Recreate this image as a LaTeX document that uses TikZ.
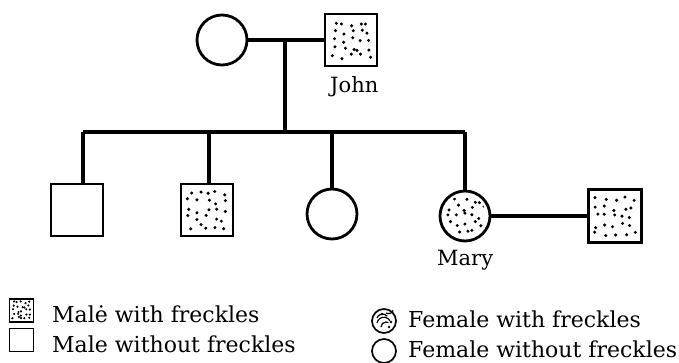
\documentclass[tikz,border=0pt]{standalone}
\usepackage{fontspec}
\setmainfont{DejaVu Serif}
\begin{document}
\begin{tikzpicture}[x=1pt,y=-1pt,
  shapeline/.style={line width=2.8pt},
  male/.style={shapeline,draw,rectangle,minimum width=52pt,minimum height=52pt,inner sep=0pt},
  female/.style={shapeline,draw,circle,minimum size=50pt,inner sep=0pt},
  link/.style={line width=3.2pt},
  smallmale/.style={draw,line width=1.7pt,rectangle,minimum width=24pt,minimum height=23pt,inner sep=0pt},
  smallfemale/.style={draw,line width=1.7pt,circle,minimum size=24pt,inner sep=0pt},
  lbl/.style={font=\fontsize{21}{24}\selectfont,inner sep=0pt},
  leg/.style={font=\fontsize{22}{24}\selectfont,inner sep=0pt,anchor=base west}]
\useasboundingbox (0,0) rectangle (679,363);
\newcommand{\freck}[4]{% center, half size, seed, dot radius
  \pgfmathsetseed{#3}
  \foreach \i in {0,...,4}{
    \foreach \j in {0,...,4}{
      \pgfmathsetmacro{\dx}{(\i-2)*#2*0.4+rand*#2*0.15}
      \pgfmathsetmacro{\dy}{(\j-2)*#2*0.4+rand*#2*0.15}
      \fill (#1) ++(\dx,\dy) circle (#4);
    }}}
% parents
\node[female] (mom) at (222,40) {};
\node[male] (john) at (351,40) {};
\begin{scope}\clip (john.south west) rectangle (john.north east); \freck{john}{21}{11}{1.7pt}\end{scope}
\node[lbl,anchor=base west] (johnlbl) at (330,93) {John};
\draw[link] (mom.east) -- (john.west);
\coordinate (mid) at (285,40);
\coordinate (bar) at (285,132);
\draw[link] (mid) -- (bar);
% children
\node[male] (c1) at (77,210) {};
\node[male] (c2) at (207,210) {};
\begin{scope}\clip (c2.south west) rectangle (c2.north east); \freck{c2}{21}{5}{1.7pt}\end{scope}
\node[female] (c3) at (332,214) {};
\node[female] (mary) at (465,216) {};
\begin{scope}\clip (mary) circle (21pt); \freck{mary}{20}{3}{1.7pt}\end{scope}
\node[lbl,anchor=base west] (marylbl) at (437,265) {Mary};
\node[male,minimum width=53pt,minimum height=53pt] (sp) at (615,216) {};
\begin{scope}\clip (sp.south west) rectangle (sp.north east); \freck{sp}{22}{9}{1.7pt}\end{scope}
\coordinate (b1) at (83,132);
\coordinate (b2) at (209,132);
\coordinate (b3) at (332,132);
\coordinate (b4) at (465,132);
\draw[link] (b1) -- (b4);
\draw[link] (b1) -- (b1 |- c1.north);
\draw[link] (b2) -- (b2 |- c2.north);
\draw[link] (b3) -- (c3.north);
\draw[link] (b4) -- (mary.north);
\draw[link] (mary.east) -- (mary.east -| sp.west);
% legend
\node[smallmale] (lm1) at (21.5,310.5) {};
\begin{scope}\clip (lm1.south west) rectangle (lm1.north east);
  \freck{lm1}{10}{2}{1.2pt}\end{scope}
\node[smallmale] (lm2) at (21.5,340) {};
\node[leg] (t1) at (52,322) {Malė with freckles};
\node[leg] (t2) at (52,352) {Male without freckles};
\node[smallfemale] (lf1) at (384,321) {};
\begin{scope}
  \draw[line width=1.2pt] (lf1) ++(-7,-3) arc (200:320:6);
  \draw[line width=1.2pt] (lf1) ++(-7,2) arc (190:330:7);
  \draw[line width=1.2pt] (lf1) ++(-3,6) arc (180:300:5);
  \draw[line width=1.2pt] (lf1) ++(2,-8) arc (120:20:5);
  \fill (lf1) ++(-2,-7) circle (1.3pt);
  \fill (lf1) ++(7,1) circle (1.3pt);
  \fill (lf1) ++(5,6) circle (1.3pt);
\end{scope}
\node[smallfemale] (lf2) at (384,351) {};
\node[leg] (t3) at (408,327) {Female with freckles};
\node[leg] (t4) at (408,357) {Female without freckles};
\end{tikzpicture}
\end{document}
